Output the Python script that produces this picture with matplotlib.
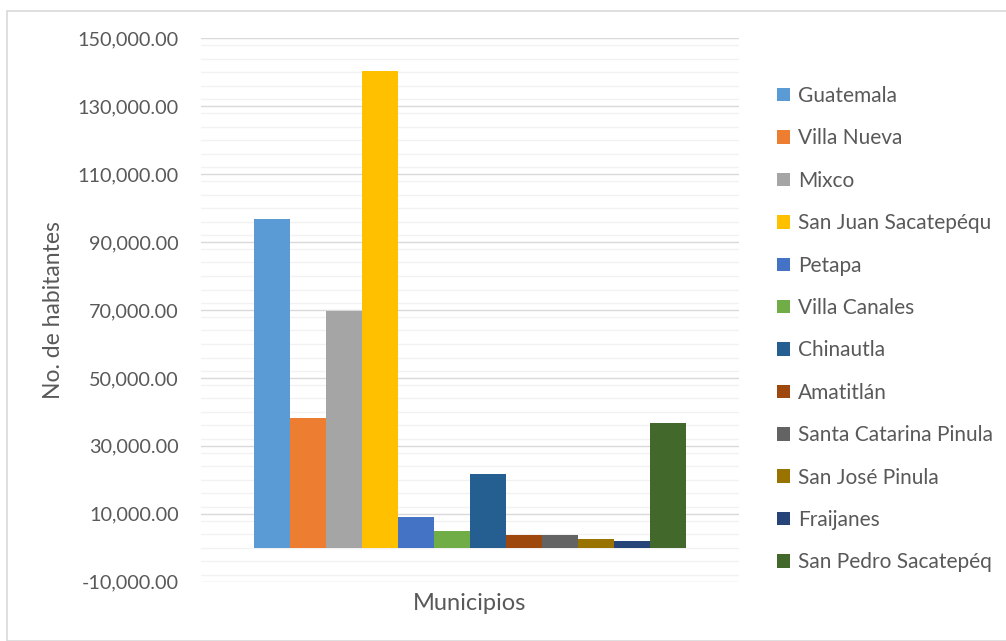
import matplotlib
matplotlib.use("Agg")
import matplotlib.pyplot as plt
from matplotlib.patches import Rectangle, Patch
from matplotlib.ticker import FuncFormatter, MultipleLocator
import numpy as np

municipios = [
    "Guatemala", "Villa Nueva", "Mixco", "San Juan Sacatepéqu", "Petapa",
    "Villa Canales", "Chinautla", "Amatitlán", "Santa Catarina Pinula",
    "San José Pinula", "Fraijanes", "San Pedro Sacatepéq",
]
habitantes = [96800, 38200, 69800, 140400, 9000, 4900, 21700, 3700, 3700,
              2600, 2000, 36700]
colores = ["#5B9BD5", "#ED7D31", "#A5A5A5", "#FFC000", "#4472C4", "#70AD47",
           "#255E91", "#9E480E", "#636363", "#997300", "#264478", "#43682B"]

plt.rcParams["font.family"] = ["Lato", "DejaVu Sans"]
text_color = "#595959"

fig = plt.figure(figsize=(10.06, 6.41), dpi=100)
W, H = 1006, 641

# chart-area border
fig.patches.append(Rectangle((7 / W, 0), 1.2, 1 - 11 / H, transform=fig.transFigure,
                             fill=False, edgecolor="#d9d9d9", linewidth=1.2))

ax = fig.add_axes([201 / W, 1 - 581.7 / H, 538 / W, (581.7 - 38.3) / H])

n = len(habitantes)
group = 0.803
bw = group / n
xs = -group / 2 + bw * (np.arange(n) + 0.5)
for x, v, c in zip(xs, habitantes, colores):
    ax.bar(x, v, width=bw, color=c, linewidth=0, zorder=3)

ax.set_xlim(-0.5, 0.5)
ax.set_ylim(-10000, 150000)
ax.set_yticks(np.arange(-10000, 150001, 20000))
ax.yaxis.set_minor_locator(MultipleLocator(4000))
ax.yaxis.set_major_formatter(FuncFormatter(lambda v, p: f"{v:,.2f}"))
ax.grid(axis="y", which="major", color="#d9d9d9", linewidth=1.0, zorder=0)
ax.grid(axis="y", which="minor", color="#f2f2f2", linewidth=1.0, zorder=0)
ax.set_xticks([])
for s in ax.spines.values():
    s.set_visible(False)
ax.tick_params(axis="y", which="both", length=0, labelsize=14.3, colors=text_color, pad=16)

ax.set_ylabel("No. de habitantes", fontsize=16.5, color=text_color)
ax.yaxis.set_label_coords((64 - 201) / 538, 0.5)
ax.set_xlabel("Municipios", fontsize=17, color=text_color, labelpad=8)

handles = [Patch(facecolor=c, edgecolor="none") for c in colores]
leg = fig.legend(handles, municipios, loc="upper left",
                 bbox_to_anchor=(777 / W, 1 - 86 / H), frameon=False,
                 fontsize=15, labelcolor=text_color, handlelength=0.62,
                 handleheight=0.62, handletextpad=0.4, labelspacing=1.075,
                 borderaxespad=0, borderpad=0)

fig.savefig("out.png", dpi=100, facecolor="white")
